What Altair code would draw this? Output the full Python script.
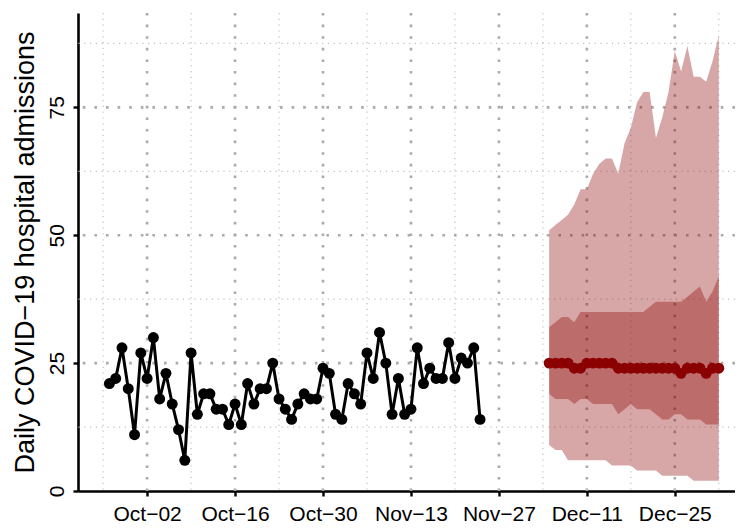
import altair as alt
import pandas as pd
from datetime import date, timedelta

# ---------------- data ----------------
obs_start = date(2021, 9, 26)
obs_values = [21, 22, 28, 20, 11, 27, 22, 30, 18, 23,
              17, 12, 6, 27, 15, 19, 19, 16, 16, 13,
              17, 13, 21, 17, 20, 20, 25, 18, 16, 14,
              17, 19, 18, 18, 24, 23, 15, 14, 21, 19,
              17, 27, 22, 31, 25, 15, 22, 15, 16, 28,
              21, 24, 22, 22, 29, 22, 26, 25, 28, 14]

fc_start = date(2021, 12, 5)
fc_median = [25, 25, 25, 25, 24, 24, 25, 25, 25, 25, 25, 24, 24, 24,
             24, 24, 24, 24, 24, 24, 24, 23, 24, 24, 24, 23, 24, 24]
fc_hi90 = [51, 52, 53, 54, 56, 59, 59, 62, 64, 65, 65, 62, 68, 71,
           76, 78, 78, 69, 73, 78, 86, 82, 87, 81, 81, 80, 84, 89]
fc_hi50 = [32, 33, 34, 34, 33, 35, 35, 35, 35, 35, 35, 35, 35, 35,
           35, 35, 36, 37, 37, 37, 37, 37, 38, 39, 40, 37, 39, 42]
fc_lo50 = [19, 18, 18, 18, 17, 18, 18, 17, 17, 17, 17, 15, 16, 17,
           16, 16, 16, 15, 14, 14, 15, 15, 14, 14, 14, 13, 13, 13]
fc_lo90 = [9, 8, 8, 6, 6, 6, 6, 6, 6, 6, 5, 5, 5, 5,
           4, 4, 4, 4, 3, 3, 3, 3, 3, 2, 2, 2, 2, 2]

x_major = ["2021-10-02", "2021-10-16", "2021-10-30", "2021-11-13",
           "2021-11-27", "2021-12-11", "2021-12-25"]
x_minor = ["2021-09-25", "2021-10-09", "2021-10-23", "2021-11-06",
           "2021-11-20", "2021-12-04", "2021-12-18", "2022-01-01"]
y_major = [0, 25, 50, 75]
y_minor = [12.5, 37.5, 62.5, 87.5]

y_title = "Daily COVID\u221219 hospital admissions"


def day_strings(start, n):
    return [(start + timedelta(days=i)).strftime("%Y-%m-%d") for i in range(n)]


obs_df = pd.DataFrame({"d": day_strings(obs_start, len(obs_values)), "v": obs_values})
fc_df = pd.DataFrame({
    "d": day_strings(fc_start, len(fc_median)),
    "med": fc_median, "lo90": fc_lo90, "hi90": fc_hi90,
    "lo50": fc_lo50, "hi50": fc_hi50,
})
xmaj_df = pd.DataFrame({"d": x_major})
xmin_df = pd.DataFrame({"d": x_minor})
ymaj_df = pd.DataFrame({"y": y_major[1:]})
ymin_df = pd.DataFrame({"y": y_minor})


def dt(s):
    y, m, d = (int(p) for p in s.split("-"))
    return alt.DateTime(year=y, month=m, date=d, utc=True)


FONT = "Liberation Sans"
X_SCALE = alt.Scale(type="utc", nice=False,
                    domain=[alt.DateTime(year=2021, month=9, date=21, utc=True),
                            alt.DateTime(year=2022, month=1, date=3, hours=14, utc=True)])
Y_SCALE = alt.Scale(domain=[0, 93.45], nice=False, zero=False)

x_axis = alt.Axis(values=[dt(s) for s in x_major], format="%b\u2212%d", title=None,
                  grid=False, domainColor="black", domainWidth=2.6,
                  tickColor="black", tickWidth=2.4, tickSize=5,
                  labelFont=FONT, labelFontSize=21, labelColor="black",
                  labelPadding=24, labelBaseline="alphabetic", labelAlign="center",
                  labelFlush=False, labelOverlap=False)

y_axis = alt.Axis(values=y_major, title=y_title, grid=False,
                  domainColor="black", domainWidth=2.6,
                  tickColor="black", tickWidth=2.4, tickSize=5,
                  labelFont=FONT, labelFontSize=21, labelColor="black",
                  labelAngle=270, labelAlign="center", labelBaseline="alphabetic",
                  labelPadding=10, labelFlush=False, labelOverlap=False,
                  titleFont=FONT, titleFontSize=27, titleFontWeight="normal",
                  titleColor="black", titleAngle=270, titleX=-45, titleY=239,
                  titleAlign="center", titleBaseline="alphabetic")

X = lambda f: alt.X(f"{f}:T", scale=X_SCALE, axis=x_axis)
Y = lambda f: alt.Y(f"{f}:Q", scale=Y_SCALE, axis=y_axis)

GRID_MAJ = dict(color="#aaaaaa", strokeWidth=2.6, strokeDash=[2.6, 9.0], strokeCap="butt")
GRID_MIN = dict(color="#c0c0c0", strokeWidth=1.2, strokeDash=[1.2, 4.6], strokeCap="butt")

gx_min = alt.Chart(xmin_df).mark_rule(**GRID_MIN).encode(x=X("d"))
gx_maj = alt.Chart(xmaj_df).mark_rule(**GRID_MAJ).encode(x=X("d"))
gy_min = alt.Chart(ymin_df).mark_rule(**GRID_MIN).encode(y=Y("y"))
gy_maj = alt.Chart(ymaj_df).mark_rule(**GRID_MAJ).encode(y=Y("y"))

band90 = alt.Chart(fc_df).mark_area(color="#8B0000", opacity=0.35).encode(
    x=X("d"), y=Y("lo90"), y2="hi90")
band50 = alt.Chart(fc_df).mark_area(color="#8B0000", opacity=0.35).encode(
    x=X("d"), y=Y("lo50"), y2="hi50")

obs_line = alt.Chart(obs_df).mark_line(color="black", strokeWidth=3).encode(
    x=X("d"), y=Y("v"))
obs_pts = alt.Chart(obs_df).mark_circle(color="black", size=120, opacity=1).encode(
    x=X("d"), y=Y("v"))
fc_pts = alt.Chart(fc_df).mark_circle(color="#8B0000", size=120, opacity=1).encode(
    x=X("d"), y=Y("med"))

chart = alt.layer(
    gx_min, gx_maj, gy_min, gy_maj, band90, band50, obs_line, obs_pts, fc_pts
).properties(
    width=657, height=478,
    padding={"left": 70, "top": 5, "right": 0, "bottom": 36},
    autosize=alt.AutoSizeParams(type="none"),
).configure_view(stroke=None)

chart.save("out.html", embed_options={"renderer": "svg", "actions": False})
